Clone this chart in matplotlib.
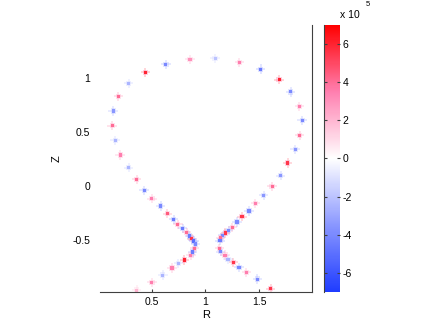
import matplotlib
matplotlib.use('Agg')
import matplotlib.pyplot as plt
import numpy as np
from matplotlib.colors import LinearSegmentedColormap

plt.rcParams['font.family'] = ['Liberation Sans', 'DejaVu Sans']

# boundary points (R, Z) and their values (x 10^5)
R_left = [1.089, 0.856, 0.633, 0.441, 0.289, 0.193, 0.143, 0.134, 0.162, 0.208,
          0.289, 0.363, 0.431, 0.503, 0.584, 0.645, 0.704, 0.744, 0.788, 0.825,
          0.849, 0.872, 0.893, 0.905, 0.900, 0.881, 0.865, 0.803, 0.747, 0.689,
          0.605, 0.503, 0.361]
Z_left = [1.182, 1.173, 1.127, 1.053, 0.951, 0.831, 0.694, 0.558, 0.423, 0.287,
          0.170, 0.062, -0.040, -0.117, -0.185, -0.256, -0.308, -0.355, -0.392, -0.429,
          -0.463, -0.488, -0.509, -0.537, -0.577, -0.611, -0.639, -0.685, -0.716, -0.759,
          -0.824, -0.892, -0.963]
V_left = [-2.0, 3.0, -4.0, 6.0, -2.5, 4.0, -3.5, 4.0, -2.5, 3.5,
          -2.5, 4.0, -4.0, 3.5, -4.0, 4.5, -4.5, 4.0, -4.5, 4.0,
          -4.5, 5.5, -5.0, -4.0, 4.0, -4.5, 3.5, 6.0, -2.5, 3.5,
          -2.5, 3.5, 2.0]

R_right = [1.314, 1.513, 1.683, 1.792, 1.872, 1.897, 1.875, 1.832, 1.764, 1.699,
           1.618, 1.541, 1.463, 1.404, 1.339, 1.293, 1.249, 1.216, 1.184, 1.160,
           1.141, 1.135, 1.128, 1.141, 1.181, 1.209, 1.258, 1.311, 1.379, 1.481,
           1.606]
Z_right = [1.145, 1.081, 0.984, 0.870, 0.738, 0.608, 0.469, 0.340, 0.213, 0.096,
           -0.003, -0.086, -0.160, -0.231, -0.284, -0.333, -0.383, -0.410, -0.435, -0.457,
           -0.481, -0.506, -0.577, -0.608, -0.639, -0.679, -0.707, -0.753, -0.799, -0.861,
           -0.951]
V_right = [3.5, -4.5, 6.0, -4.0, 3.5, -4.0, 4.0, -3.5, 5.5, -3.5,
           4.0, -3.5, 3.5, -4.0, 5.5, -4.0, 4.0, -4.0, 5.5, -4.0,
           4.0, -4.5, 4.0, -4.0, 3.5, -2.5, 5.5, -4.0, 3.5, -4.0,
           5.5]

R = np.array(R_left + R_right)
Z = np.array(Z_left + Z_right)
V = np.array(V_left + V_right) * 1e5

cmap = LinearSegmentedColormap.from_list(
    'bwr2', ['#1f3cff', '#8a97ff', '#ffffff', '#ff80b0', '#ff0000'])
vmax = 7e5

fig = plt.figure(figsize=(4.36, 3.28), dpi=100)
ax = fig.add_axes([0.229, 0.110, 0.487, 0.814])

# faint halo then core
ax.scatter(R, Z, c=V, cmap=cmap, vmin=-vmax, vmax=vmax, marker='+', s=45,
           linewidths=1.2, alpha=0.22)
ax.scatter(R, Z, c=V * 0.6, cmap=cmap, vmin=-vmax, vmax=vmax, marker='s', s=14,
           linewidths=0, alpha=0.35)
sc = ax.scatter(R, Z, c=V, cmap=cmap, vmin=-vmax, vmax=vmax, marker='s', s=5,
                linewidths=0)

ax.set_xlim(0.02, 1.99)
ax.set_ylim(-0.98, 1.49)
ax.set_xticks([0.5, 1, 1.5])
ax.set_xticklabels(['0.5', '1', '1.5'])
ax.set_yticks([-0.5, 0, 0.5, 1])
ax.set_yticklabels(['-0.5', '0', '0.5', '1'])
ax.spines['top'].set_visible(False)
ax.spines['left'].set_visible(False)
for s in ['bottom', 'right']:
    ax.spines[s].set_color('#404040')
    ax.spines[s].set_linewidth(0.8)
ax.tick_params(axis='y', length=0, labelsize=7.5, pad=7)
ax.tick_params(axis='x', length=2, direction='in', labelsize=7.5, pad=4, color='#404040')
ax.set_xlabel('R', fontsize=8, labelpad=2)
ax.set_ylabel('Z', fontsize=8, labelpad=8)

cax = fig.add_axes([0.743, 0.110, 0.037, 0.814])
cb = fig.colorbar(sc, cax=cax)
cb.set_ticks(np.arange(-6, 7, 2) * 1e5)
cb.set_ticklabels(['-6', '-4', '-2', '0', '2', '4', '6'])
cb.outline.set_visible(False)
cax.spines['left'].set_visible(True)
cax.spines['left'].set_color('#404040')
cax.spines['left'].set_linewidth(0.8)
cax.tick_params(length=2, direction='in', left=True, right=True,
                labelsize=7.5, pad=2, color='#404040')
fig.text(0.78, 0.94, 'x 10', fontsize=7.5, ha='left', va='bottom')
fig.text(0.838, 0.975, '5', fontsize=5.5, ha='left', va='bottom')

plt.savefig('out.png', dpi=100)
